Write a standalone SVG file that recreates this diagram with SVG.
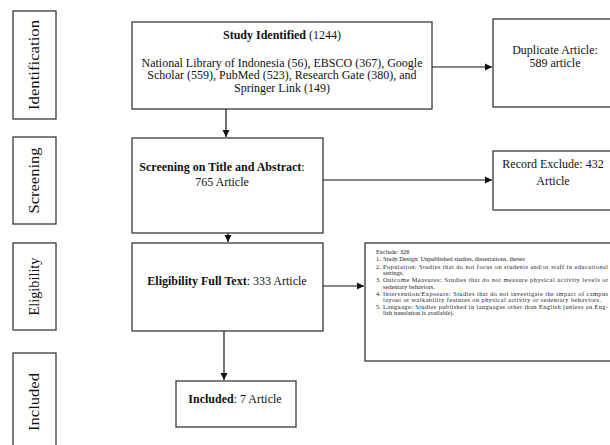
<svg xmlns="http://www.w3.org/2000/svg" width="610" height="445" viewBox="0 0 610 445">
<style>
.box{fill:#fff;stroke:#3a3a3a;stroke-width:1.3}
.t{font-family:"Liberation Serif","Times New Roman",serif;font-size:12px;fill:#111}
.c{text-anchor:middle}
.b{font-weight:bold}
.side{font-family:"Liberation Serif","Times New Roman",serif;font-size:14px;fill:#111;text-anchor:middle}
.s{font-family:"Liberation Serif","Times New Roman",serif;font-size:6.3px;fill:#222}
.ln{stroke:#111;stroke-width:1.2;fill:none}
</style>
<defs>
<marker id="ah" markerWidth="8" markerHeight="8" refX="7" refY="4" orient="auto" markerUnits="userSpaceOnUse">
<path d="M0,0.5 L7,4 L0,7.5 Z" fill="#111"/>
</marker>
</defs>
<g id="phase-identification"><rect class="box" x="13" y="11" width="43" height="108"/><text class="side" transform="translate(38.5,65) rotate(-90)" textLength="90" lengthAdjust="spacingAndGlyphs">Identification</text></g>
<g id="phase-screening"><rect class="box" x="13" y="137" width="43" height="87"/><text class="side" transform="translate(38.5,180.5) rotate(-90)" textLength="66" lengthAdjust="spacingAndGlyphs">Screening</text></g>
<g id="phase-eligibility"><rect class="box" x="13" y="243" width="43" height="87"/><text class="side" transform="translate(38.5,286.5) rotate(-90)" textLength="58" lengthAdjust="spacingAndGlyphs">Eligibility</text></g>
<g id="phase-included"><rect class="box" x="13" y="353" width="43" height="100"/><text class="side" transform="translate(38.5,402) rotate(-90)" textLength="58" lengthAdjust="spacingAndGlyphs">Included</text></g>

<g id="study-identified"><rect class="box" x="132" y="22" width="300" height="87"/>
<text class="t c" x="282" y="39"><tspan class="b">Study Identified</tspan> (1244)</text>
<text class="t c" x="282" y="66.5" font-size="11.4">National Library of Indonesia (56), EBSCO (367), Google</text>
<text class="t c" x="282" y="79" font-size="11.4">Scholar (559), PubMed (523), Research Gate (380), and</text>
<text class="t c" x="282" y="91.5" font-size="11.4">Springer Link (149)</text></g>

<g id="duplicate"><rect class="box" x="493" y="19" width="125" height="88"/>
<text class="t c" x="555" y="54">Duplicate Article:</text>
<text class="t c" x="555" y="67">589 article</text></g>

<g id="screening"><rect class="box" x="132" y="138" width="191" height="95"/>
<text class="t c" x="222" y="171" font-size="11.4"><tspan class="b">Screening on Title and Abstract</tspan>:</text>
<text class="t c" x="222" y="186">765 Article</text></g>

<g id="record-exclude"><rect class="box" x="493" y="151" width="125" height="59"/>
<text class="t c" x="553" y="168">Record Exclude: 432</text>
<text class="t c" x="553" y="185">Article</text></g>

<g id="eligibility"><rect class="box" x="132" y="243" width="191" height="88"/>
<text class="t c" x="227" y="285"><tspan class="b">Eligibility Full Text</tspan>: 333 Article</text></g>

<g id="exclude"><rect class="box" x="365" y="243" width="253" height="118"/>
<text class="s" x="376" y="254">Exclude: 326</text>
<text class="s" x="376" y="261">1.</text><text class="s" x="383" y="261">Study Design: Unpublished studies, dissertations, theses</text>
<text class="s" x="376" y="268.5">2.</text><text class="s" x="383" y="268.5" textLength="225" lengthAdjust="spacing">Population: Studies that do not focus on students and/or staff in educational</text>
<text class="s" x="383" y="275">settings.</text>
<text class="s" x="376" y="282">3.</text><text class="s" x="383" y="282" textLength="225" lengthAdjust="spacing">Outcome Measures: Studies that do not measure physical activity levels or</text>
<text class="s" x="383" y="288.5">sedentary behaviors.</text>
<text class="s" x="376" y="295.5">4.</text><text class="s" x="383" y="295.5" textLength="225" lengthAdjust="spacing">Intervention/Exposure: Studies that do not investigate the impact of campus</text>
<text class="s" x="383" y="302" textLength="218" lengthAdjust="spacing">layout or walkability features on physical activity or sedentary behaviors.</text>
<text class="s" x="376" y="308.5">5.</text><text class="s" x="383" y="308.5" textLength="225" lengthAdjust="spacing">Language: Studies published in languages other than English (unless an Eng-</text>
<text class="s" x="383" y="315">lish translation is available).</text></g>

<g id="included"><rect class="box" x="176" y="381" width="120" height="46"/>
<text class="t c" x="235" y="403"><tspan class="b">Included</tspan>: 7 Article</text></g>

<g id="connectors">
<line class="ln" x1="432" y1="67" x2="492" y2="67" marker-end="url(#ah)"/>
<line class="ln" x1="226" y1="109" x2="226" y2="137" marker-end="url(#ah)"/>
<line class="ln" x1="323" y1="180" x2="492" y2="180" marker-end="url(#ah)"/>
<line class="ln" x1="228" y1="233" x2="228" y2="242" marker-end="url(#ah)"/>
<line class="ln" x1="323" y1="286" x2="364" y2="286" marker-end="url(#ah)"/>
<line class="ln" x1="224" y1="331" x2="224" y2="380" marker-end="url(#ah)"/>
</g>
</svg>
